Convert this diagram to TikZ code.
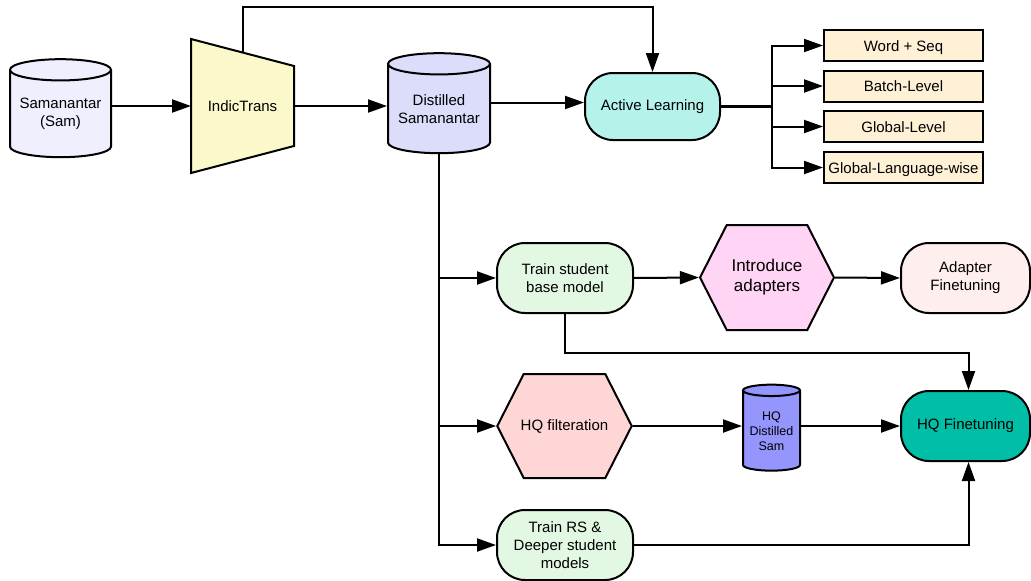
\documentclass[tikz,border=0pt]{standalone}
\usepackage{fontspec}
\setmainfont{Liberation Sans}
\usepackage{tikz}
\usetikzlibrary{arrows.meta,shapes.geometric,shapes.symbols,backgrounds}

\definecolor{samfill}{HTML}{EFEFFD}
\definecolor{indicfill}{HTML}{FBF9C9}
\definecolor{distfill}{HTML}{DCDCFB}
\definecolor{alfill}{HTML}{B5F2EA}
\definecolor{lvlfill}{HTML}{FFF1D6}
\definecolor{trainfill}{HTML}{E2F8E2}
\definecolor{introfill}{HTML}{FFD4F4}
\definecolor{adptfill}{HTML}{FEEEEE}
\definecolor{hqfill}{HTML}{FFD6D6}
\definecolor{hqsamfill}{HTML}{9595FE}
\definecolor{hqftfill}{HTML}{00BFA6}

\begin{document}
\begin{tikzpicture}[
    x=1pt, y=-1pt,
    font=\fontsize{15}{18}\selectfont,
    line width=2pt,
    db/.style={cylinder, shape border rotate=90, aspect=0.26, draw, align=center, inner sep=0pt},
    pill/.style={rectangle, draw, rounded corners=28pt, align=center, minimum height=70pt},
    hexa/.style={signal, signal to=west and east, signal pointer angle=126, draw, align=center, inner sep=0pt},
    lvl/.style={rectangle, draw, fill=lvlfill, minimum width=159pt, minimum height=31pt, text height=11pt, text depth=0pt},
    arrow/.style={-{Triangle[length=19pt,width=13pt]}}
]
    \useasboundingbox (0,0) rectangle (1031,581);

    % Nodes
    \node[db, fill=samfill, minimum width=101pt, minimum height=98pt] (sam) at (60.5,114) {Samanantar\\(Sam)};
    \node[minimum width=101pt, minimum height=132pt, inner sep=0pt] (indic) at (242.5,106) {IndicTrans};
    \begin{scope}[on background layer]
        \draw[line width=2pt, fill=indicfill] (indic.north west) -- ([yshift=-27pt]indic.north east)
            -- ([yshift=27pt]indic.south east) -- (indic.south west) -- cycle;
    \end{scope}
    \node[db, fill=distfill, minimum width=102pt, minimum height=100pt] (dist) at (439,109) {Distilled\\Samanantar};
    \node[pill, fill=alfill, minimum width=135pt, minimum height=67pt] (al) at (652.5,106.5) {Active Learning};

    \node[lvl] (word)   at (903.5,45.5)  {Word + Seq};
    \node[lvl] (batch)  at (903.5,86)    {Batch-Level};
    \node[lvl] (global) at (903.5,126.5) {Global-Level};
    \node[lvl] (glang)  at (903.5,167.5) {Global-Language-wise};
    \coordinate (fork) at (772,106.5);

    \node[pill, fill=trainfill, minimum width=136pt] (tsb) at (565,278) {Train student\\base model};
    \node[hexa, fill=introfill, minimum width=134pt, minimum height=105pt,
          font=\fontsize{17}{20}\selectfont] (intro) at (767,277.5) {Introduce\\adapters};
    \node[pill, fill=adptfill, minimum width=129pt] (adft) at (965.5,278) {Adapter\\Finetuning};

    \node[hexa, fill=hqfill, minimum width=131pt, minimum height=104pt, inner xsep=-3pt] (hqf) at (564.5,426) {HQ filteration};
    \node[db, fill=hqsamfill, minimum width=57pt, minimum height=86pt,
          font=\fontsize{12.5}{15}\selectfont] (hqsam) at (771.5,431) {HQ\\Distilled\\Sam};
    \node[pill, fill=hqftfill, minimum width=129pt] (hqft) at (965.5,426) {HQ Finetuning};

    \node[pill, fill=trainfill, minimum width=136pt] (trs) at (565,545) {Train RS \&\\Deeper student\\models};

    % Arrows
    \draw[arrow] (sam.0 |- indic.west) -- (indic.west);
    \draw[arrow] (indic.east) -- (indic.east -| dist.180);
    \draw[arrow] ([yshift=-13.6pt]indic.north) -- ++(0,-46) -| (al.north);
    \draw[arrow] ([yshift=4pt]al.west -| dist.0) -- ([yshift=4pt]al.west);

    \draw[line width=3pt] (al.east) -- (fork);
    \foreach \lv in {word,batch,global,glang}
        \draw[arrow] (fork) |- (\lv.west);

    \draw[arrow] (dist.270) |- (tsb.west);
    \draw[arrow] (dist.270) |- (hqf.180);
    \draw[arrow] (dist.270) |- (trs.west);

    \draw[arrow] (tsb.east) -- (intro.180);
    \draw[arrow] (intro.0) -- (adft.west);
    \draw[arrow] (tsb.south) -- ++(0,39) -| ([xshift=3pt]hqft.north);

    \draw[arrow] (hqf.0) -- (hqf.0 -| hqsam.180);
    \draw[arrow] (hqsam.0 |- hqft.west) -- (hqft.west);
    \draw[arrow] (trs.east) -| ([xshift=3pt]hqft.south);
\end{tikzpicture}
\end{document}
